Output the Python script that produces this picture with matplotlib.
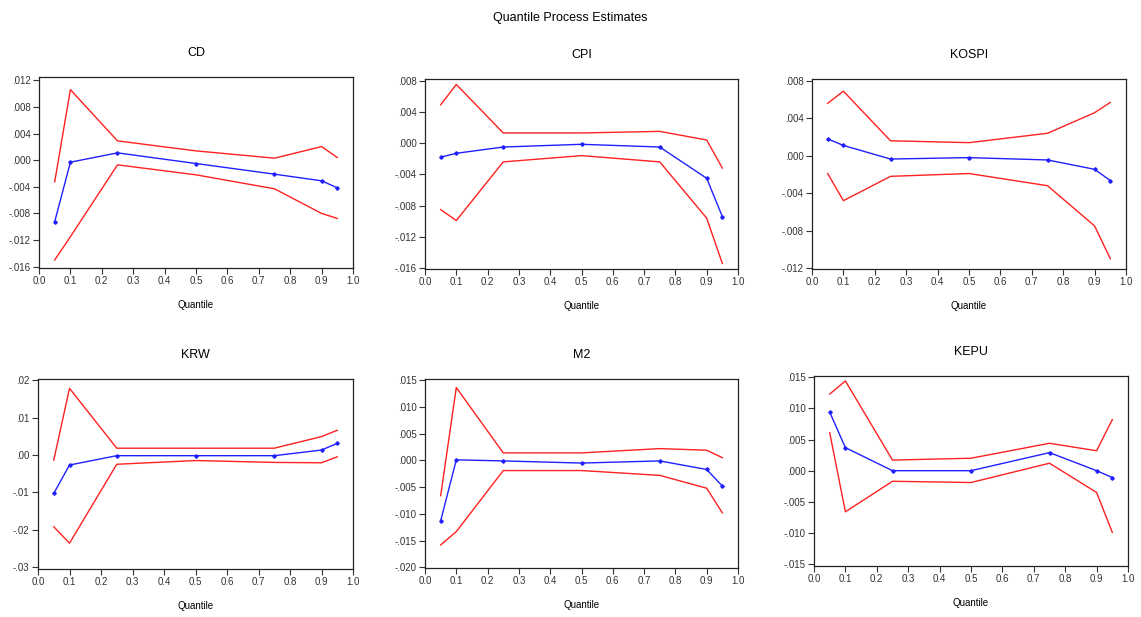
import matplotlib
matplotlib.use("Agg")
import matplotlib.pyplot as plt
from matplotlib.ticker import FuncFormatter, MultipleLocator

plt.rcParams['font.family'] = ['Liberation Sans', 'DejaVu Sans']

quantiles = [0.05, 0.10, 0.25, 0.50, 0.75, 0.90, 0.95]

titles = ["CD", "CPI", "KOSPI", "KRW", "M2", "KEPU"]

cd_est = [-0.00925, -0.0003, 0.0011, -0.0005, -0.0021, -0.0031, -0.00415]
cd_up = [-0.00325, 0.0106, 0.0029, 0.0014, 0.0003, 0.00205, 0.0004]
cd_lo = [-0.0150, -0.0115, -0.0007, -0.0022, -0.0043, -0.0080, -0.00875]

cpi_est = [-0.0018, -0.0013, -0.0005, -0.00015, -0.0005, -0.0045, -0.0094]
cpi_up = [0.0049, 0.0075, 0.0013, 0.0013, 0.0015, 0.0004, -0.0032]
cpi_lo = [-0.0085, -0.0099, -0.0024, -0.0016, -0.0024, -0.0096, -0.0154]

kospi_est = [0.0018, 0.0011, -0.00035, -0.0002, -0.00045, -0.00145, -0.00265]
kospi_up = [0.0056, 0.0069, 0.0016, 0.0014, 0.0024, 0.0046, 0.0057]
kospi_lo = [-0.0019, -0.0048, -0.0022, -0.0019, -0.0032, -0.0075, -0.0110]

krw_est = [-0.0103, -0.0027, -0.0002, -0.0002, -0.0002, 0.0013, 0.0031]
krw_up = [-0.0014, 0.0178, 0.0018, 0.0018, 0.0018, 0.0049, 0.0066]
krw_lo = [-0.0192, -0.0236, -0.0025, -0.0015, -0.0020, -0.0021, -0.0005]

m2_est = [-0.0113, 0.0001, -0.0001, -0.0005, -0.0001, -0.0017, -0.0048]
m2_up = [-0.0066, 0.0136, 0.0014, 0.0014, 0.0022, 0.0019, 0.0005]
m2_lo = [-0.0158, -0.0133, -0.0019, -0.0019, -0.0028, -0.0052, -0.0098]

kepu_est = [0.0094, 0.0037, 0.0000, 0.0000, 0.0029, 0.0000, -0.0011]
kepu_up = [0.0123, 0.0144, 0.0017, 0.0020, 0.0044, 0.0032, 0.0082]
kepu_lo = [0.0061, -0.0066, -0.0017, -0.0019, 0.0012, -0.0035, -0.0099]

estimates = [cd_est, cpi_est, kospi_est, krw_est, m2_est, kepu_est]
uppers = [cd_up, cpi_up, kospi_up, krw_up, m2_up, kepu_up]
lowers = [cd_lo, cpi_lo, kospi_lo, krw_lo, m2_lo, kepu_lo]

ylims = [(-0.0162, 0.0125), (-0.0161, 0.0082), (-0.0121, 0.0082),
         (-0.0305, 0.0203), (-0.0201, 0.0152), (-0.0153, 0.0152)]
ysteps = [0.004, 0.004, 0.004, 0.01, 0.005, 0.005]
ydecimals = [3, 3, 3, 2, 3, 3]

W, H = 1141, 617
boxes = [(39, 353, 77, 268), (425, 738, 79, 269), (812, 1126, 79, 269),
         (38, 353, 379, 569), (425, 738, 379, 568), (814, 1128, 376, 566)]

fig = plt.figure(figsize=(W / 100, H / 100), dpi=100)
fig.text(0.5, 1 - 18 / H, "Quantile Process Estimates", ha='center', va='center', fontsize=9)

def make_fmt(dec):
    def f(v, pos):
        s = f"{v:.{dec}f}"
        if abs(v) < 10 ** (-dec) / 2:
            s = f"{0:.{dec}f}"
        s = s.replace("-0.", "-.").replace("0.", ".", 1) if s.startswith(("0.", "-0.")) else s
        return s
    return f

for i in range(6):
    l, r, t, b = boxes[i]
    ax = fig.add_axes([l / W, 1 - b / H, (r - l) / W, (b - t) / H])
    ax.plot(quantiles, uppers[i], color='#ff2020', lw=1.0)
    ax.plot(quantiles, lowers[i], color='#ff2020', lw=1.0)
    ax.plot(quantiles, estimates[i], color='#2020ff', lw=1.0, marker='D', ms=1.8,
            mfc='#2020ff', mec='#2020ff')
    ax.set_xlim(0, 1.0)
    ax.set_ylim(*ylims[i])
    ax.xaxis.set_major_locator(MultipleLocator(0.1))
    ax.xaxis.set_major_formatter(FuncFormatter(lambda v, p: f"{v:.1f}"))
    ax.yaxis.set_major_locator(MultipleLocator(ysteps[i]))
    ax.yaxis.set_major_formatter(FuncFormatter(make_fmt(ydecimals[i])))
    ax.tick_params(direction='out', length=4, width=0.8, labelsize=7, colors='#333333',
                   pad=2)
    for sp in ax.spines.values():
        sp.set_linewidth(0.9)
        sp.set_color('#222222')
    ax.set_title(titles[i], fontsize=9, pad=15)
    ax.set_xlabel("Quantile", fontsize=7, labelpad=10)

fig.savefig("out.png", dpi=100)
